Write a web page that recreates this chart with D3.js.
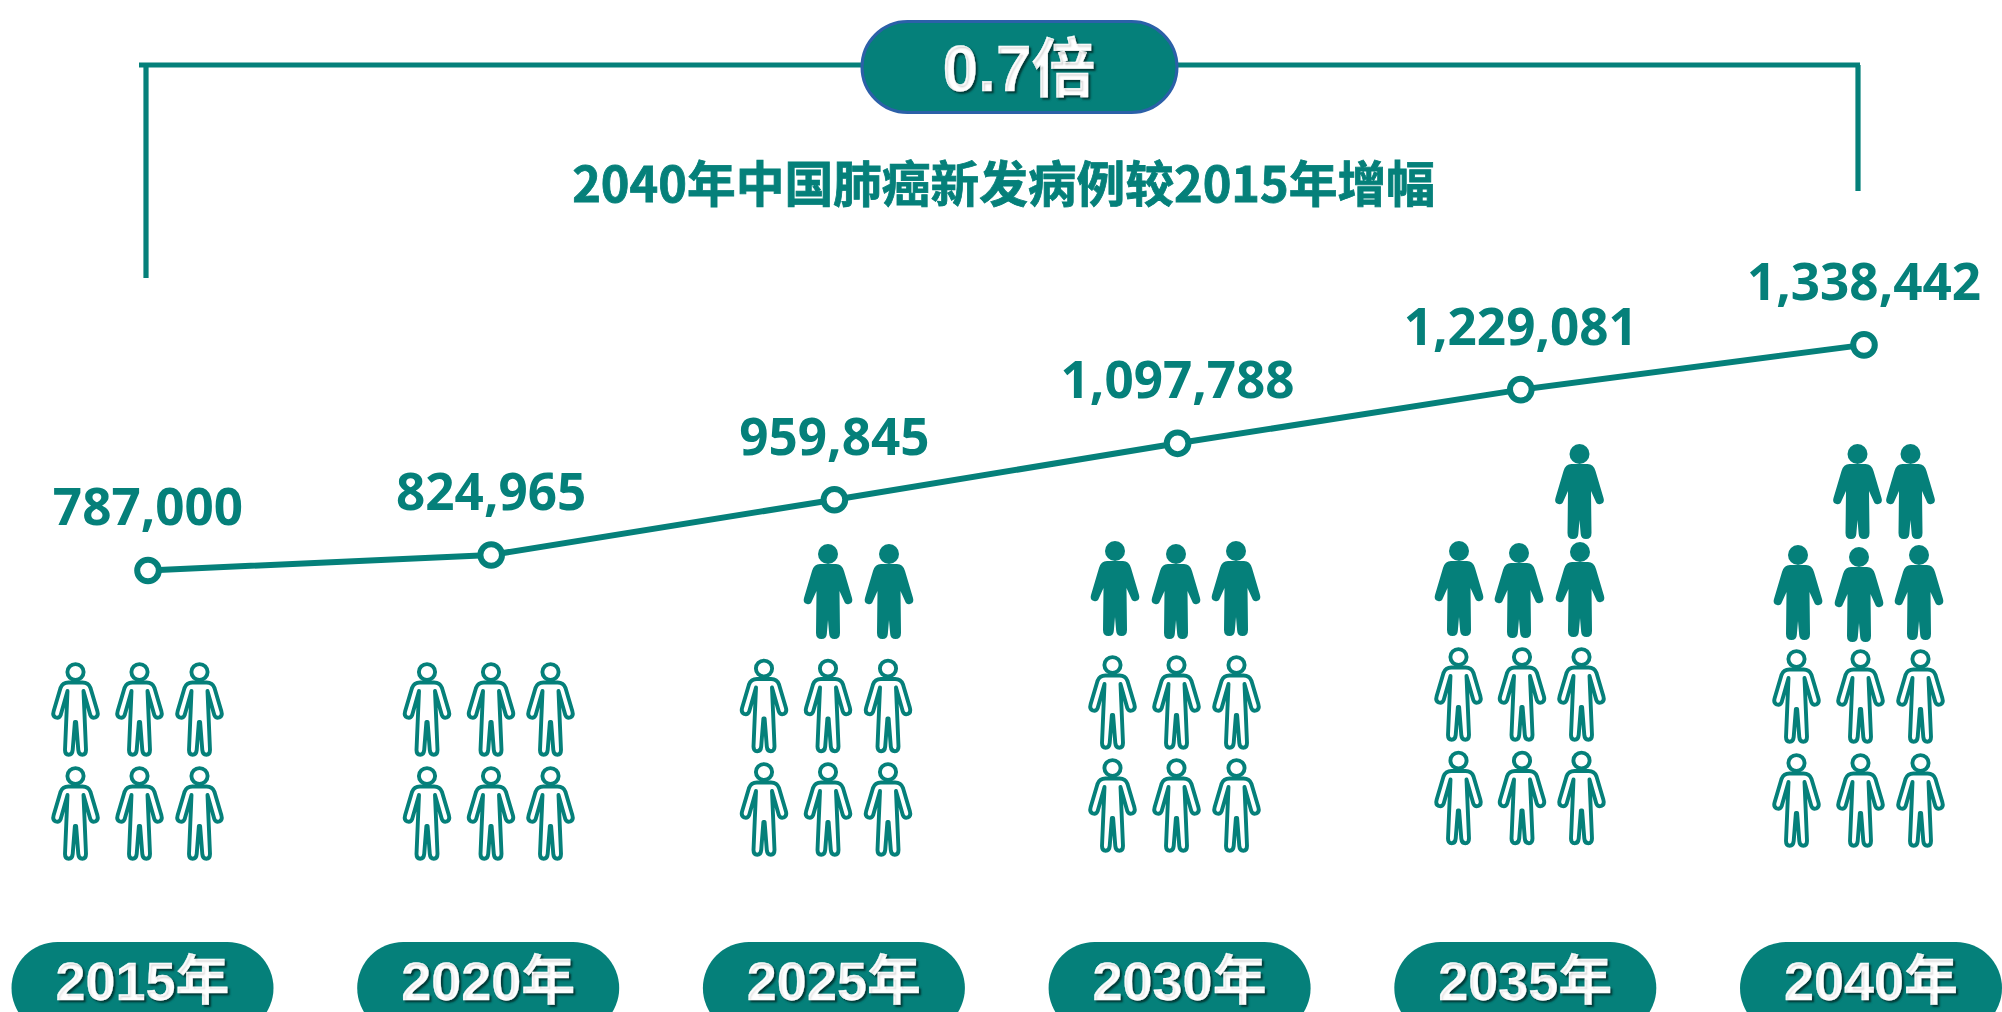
<!DOCTYPE html>
<html><head><meta charset="utf-8">
<script src="https://cdnjs.cloudflare.com/ajax/libs/d3/7.8.5/d3.min.js"></script>
<style>html,body{margin:0;padding:0;background:#fff;overflow:hidden}svg{display:block}</style>
</head><body><svg id="c" width="2002" height="1012"></svg>
<script>
// data
const years = ["2015年","2020年","2025年","2030年","2035年","2040年"];
const cases = [787000,824965,959845,1097788,1229081,1338442];
const outlineCounts = [6,6,6,6,6,6];
const filledCounts = [0,0,2,3,4,5];
const titleText = "2040年中国肺癌新发病例较2015年增幅";
const badgeText = "0.7倍";

// layout (not data)
const TEAL = "#05807a";
const outlineCols = [[75.5,139.5,199.5],[427,491,550.5],[764,828,888],[1112.5,1176.5,1236.5],[1458.5,1522,1581.5],[1796.5,1860.5,1920.5]];
const outlineRows = [[672,776],[672,776],[668.5,772],[665,768],[657,760.5],[659,763]];
const filledSlots = [[],[],
  [[828,554],[889,554]],
  [[1115,551],[1176,554],[1236,551]],
  [[1459,551],[1519,553],[1580,552],[1579.5,454]],
  [[1798,555],[1859,557],[1919,555],[1857.5,454],[1910.5,454]]];

const svg = d3.select("#c");
const x = d3.scalePoint().domain(years).range([148,1864]);
const xPill = d3.scalePoint().domain(years).range([142.5,1871]);
const y = d3.scaleLinear().domain([0,1400000]).range([892.4,319.7]);

const cjk = "'Liberation Sans','Noto Sans CJK SC',sans-serif";
const shadow = "2px 2px 2px rgba(0,0,0,0.55)";

// bracket
const bracket = svg.append("g").attr("fill","none").attr("stroke",TEAL).attr("stroke-width",5.2);
bracket.append("line").attr("x1",139).attr("x2",1860).attr("y1",65).attr("y2",65);
bracket.append("line").attr("x1",146).attr("x2",146).attr("y1",65).attr("y2",278);
bracket.append("line").attr("x1",1858).attr("x2",1858).attr("y1",65).attr("y2",191);

svg.append("rect").attr("x",862).attr("y",21.5).attr("width",315).attr("height",91).attr("rx",45.5)
  .attr("fill",TEAL).attr("stroke","#2b60a8").attr("stroke-width",3);
svg.append("text").text(badgeText).attr("x",1019).attr("y",91)
  .attr("text-anchor","middle").attr("font-family",cjk).attr("font-weight",700).attr("font-size",64)
  .attr("fill","#fff").attr("stroke","#fff").attr("stroke-width",0.4).style("text-shadow",shadow);

svg.append("text").text(titleText).attr("x",1003.5).attr("y",202)
  .attr("text-anchor","middle").attr("font-family","'Noto Sans CJK SC',sans-serif").attr("font-weight",700).attr("font-size",48.7)
  .attr("fill",TEAL).attr("stroke",TEAL).attr("stroke-width",0.8);

// person glyphs (local coords: x centred, y=0 top of head)
const personOutline = "M0,20.5 L7,20.5 Q13,20.5 15,26 L21.8,49 Q23.3,54 19.8,55.5 Q16.3,56.5 14.8,53 L8,29 L10.5,88 Q10.5,92.7 6.8,92.7 Q3.2,92.7 2.8,88 L0.6,60 L-0.6,60 L-2.8,88 Q-3.2,92.7 -6.8,92.7 Q-10.5,92.7 -10.5,88 L-8,29 L-14.8,53 Q-16.3,56.5 -19.8,55.5 Q-23.3,54 -21.8,49 L-15,26 Q-13,20.5 -7,20.5 Z";
const personFilled = "M0,20 L8,20 Q14,20 16,27 L24,54 Q25.5,59 21,60 Q17.5,61 16,57 L11.5,47 L12,89 Q12,95 6.5,95 Q1.5,95 1.2,90 L0,76 L-1.2,90 Q-1.5,95 -6.5,95 Q-12,95 -12,89 L-11.5,47 L-16,57 Q-17.5,61 -21,60 Q-25.5,59 -24,54 L-16,27 Q-14,20 -8,20 Z";

function drawOutline(g){
  g.append("ellipse").attr("cx",0).attr("cy",10).attr("rx",8.1).attr("ry",7.9).attr("fill","#fff").attr("stroke",TEAL).attr("stroke-width",3.9);
  g.append("path").attr("d",personOutline).attr("fill","#fff").attr("stroke",TEAL).attr("stroke-width",3.9).attr("stroke-linejoin","round");
}
function drawFilled(g){
  g.append("ellipse").attr("cx",0).attr("cy",10).attr("rx",10).attr("ry",10).attr("fill",TEAL);
  g.append("path").attr("d",personFilled).attr("fill",TEAL);
}

years.forEach((yr,i)=>{
  const slots = d3.range(outlineCounts[i]).map(k=>({
    cx: outlineCols[i][k%3], cy: outlineRows[i][Math.floor(k/3)]
  }));
  svg.append("g").selectAll("g").data(slots).join("g")
    .attr("transform",d=>`translate(${d.cx},${d.cy-10})`).each(function(){drawOutline(d3.select(this));});
  const fs = filledSlots[i].slice(0,filledCounts[i]);
  svg.append("g").selectAll("g").data(fs).join("g")
    .attr("transform",d=>`translate(${d[0]},${d[1]-10})`).each(function(){drawFilled(d3.select(this));});
});

// line
const pts = years.map((yr,i)=>({yr,v:cases[i]}));
svg.append("path").datum(pts).attr("fill","none").attr("stroke",TEAL).attr("stroke-width",6)
  .attr("d",d3.line().x(d=>x(d.yr)).y(d=>y(d.v)));
svg.append("g").selectAll("circle").data(pts).join("circle")
  .attr("cx",d=>x(d.yr)).attr("cy",d=>y(d.v)).attr("r",10.8)
  .attr("fill","#fff").attr("stroke",TEAL).attr("stroke-width",6);
svg.append("g").selectAll("text").data(pts).join("text")
  .text(d=>d3.format(",")(d.v))
  .attr("x",d=>x(d.yr)).attr("y",d=>y(d.v)-45)
  .attr("text-anchor","middle").attr("font-family","'Noto Sans',sans-serif").attr("font-weight",700).attr("font-size",51.2)
  .attr("fill",TEAL);

// year pills
const pill = svg.append("g").selectAll("g").data(years).join("g");
pill.append("rect").attr("x",d=>xPill(d)-131).attr("y",942).attr("width",262).attr("height",92).attr("rx",46).attr("fill",TEAL);
pill.append("text").text(d=>d).attr("x",d=>xPill(d)).attr("y",1000)
  .attr("text-anchor","middle").attr("font-family",cjk).attr("font-weight",700).attr("font-size",54)
  .attr("fill","#fff").attr("stroke","#fff").attr("stroke-width",0.3).style("text-shadow",shadow);
</script></body></html>
